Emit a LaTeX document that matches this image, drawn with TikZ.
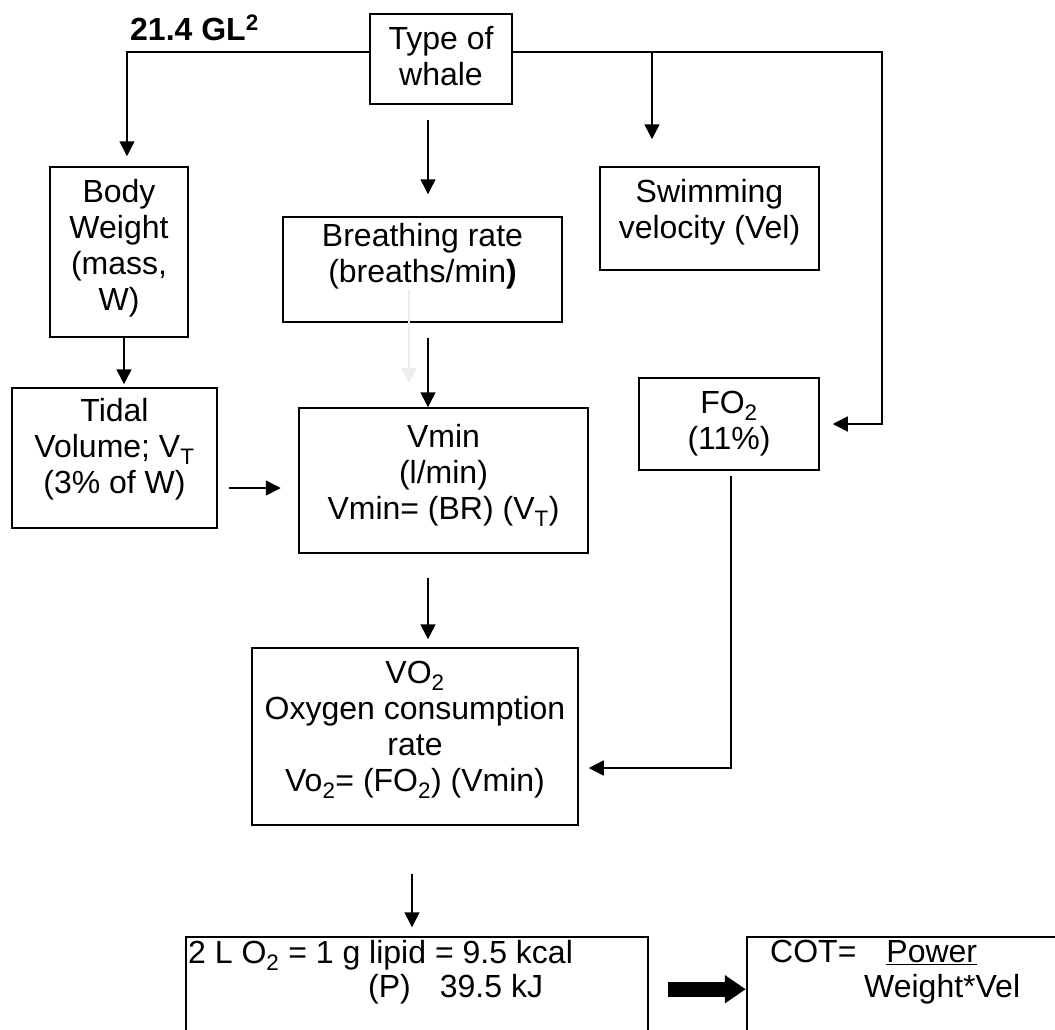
\documentclass[tikz,border=0pt]{standalone}
\usepackage{fontspec}
\setmainfont{Liberation Sans}
\usetikzlibrary{arrows.meta}

\tikzset{
  box/.style={draw, line width=1.5pt, inner sep=0pt},
  lbl/.style={align=center, inner sep=0pt},
  txt/.style={anchor=base west, inner sep=0pt},
  link/.style={line width=1.5pt, -{Triangle[length=15pt,width=15pt]}},
}

\begin{document}
\begin{tikzpicture}[x=1pt, y=-1pt, font=\fontsize{32}{36}\selectfont]
  \useasboundingbox (0,0) rectangle (1055,1029);
  \clip (0,0) rectangle (1055,1029);
  \fill[white] (0,0) rectangle (1055,1029);

  % boxes
  \node[box, minimum width=142pt, minimum height=90pt,
        label={[lbl,yshift=3pt]center:Type of\\whale}] (typ) at (441,59) {};
  \node[box, minimum width=138pt, minimum height=170pt,
        label={[lbl,yshift=4pt]center:Body\\Weight\\(mass,\\W)}] (body) at (119,252) {};
  \node[box, minimum width=279pt, minimum height=105pt,
        label={[lbl,yshift=13pt]center:Breathing rate\\(breaths/min\textbf{)}}] (brth) at (422.5,269.5) {};
  \node[box, minimum width=219pt, minimum height=103pt,
        label={[lbl,yshift=6pt]center:Swimming\\velocity (Vel)}] (swim) at (709.5,218.5) {};
  \node[box, minimum width=205pt, minimum height=140pt,
        label={[lbl,yshift=8.5pt]center:Tidal\\Volume; V\textsubscript{T}\\(3\% of W)}] (tidal) at (114.5,458) {};
  \node[box, minimum width=289pt, minimum height=145pt,
        label={[lbl,yshift=5pt]center:Vmin\\(l/min)\\Vmin= (BR) (V\textsubscript{T})}] (vmin) at (443.5,480.5) {};
  \node[box, minimum width=180pt, minimum height=92pt,
        label={[lbl]center:FO\textsubscript{2}\\(11\%)}] (fo2) at (729,424) {};
  \node[box, minimum width=326pt, minimum height=177pt,
        label={[lbl,yshift=6.5pt]center:VO\textsubscript{2}\\Oxygen consumption\\rate\\Vo\textsubscript{2}= (FO\textsubscript{2}) (Vmin)}] (vo2) at (415,736.5) {};
  \node[box, minimum width=462pt, minimum height=123pt] (lipid) at (417,998.5) {};
  \node[box, minimum width=328pt, minimum height=123pt] (cot) at (911,998.5) {};

  % texts
  \node[txt, font=\fontsize{32}{36}\selectfont\bfseries] (gl) at (130,40) {21.4 GL\textsuperscript{2}};
  \node[txt] (lip1) at (188,963) {2 L O\textsubscript{2} = 1 g lipid = 9.5 kcal};
  \node[txt] (lip2) at (368,997) {(P)\hspace{29pt}39.5 kJ};
  \node[txt] (cot1) at (770,962) {COT=\hspace{30pt}\underline{Power}};
  \node[txt] (cot2) at (864,997) {Weight*Vel};

  % connectors
  \coordinate (tl) at (127,52);
  \coordinate (tr) at (882,52);
  \coordinate (sw) at (652,52);
  \coordinate (m1) at (428,120);
  \coordinate (fb) at (409,290);
  \draw[link] (typ.west |- tl) -- (tl) -- ([xshift=8pt,yshift=10pt]body.north);
  \draw[link] (typ.east |- tr) -- (tr) |- ([xshift=13pt]fo2.east);
  \draw[link] (sw) -- ([xshift=-57.5pt,yshift=27pt]swim.north);
  \draw[link] (m1) -- ([xshift=5.5pt,yshift=22pt]brth.north);
  \draw[link, black!7] (fb) -- (409,383);
  \draw[link] ([xshift=5.5pt,yshift=-15pt]brth.south) -- ([xshift=-15.5pt]vmin.north);
  \draw[link] ([xshift=5pt]body.south) -- ([xshift=9.5pt,yshift=3pt]tidal.north);
  \draw[link] ([xshift=11pt,yshift=-30pt]tidal.east) -- ++(52,0);
  \draw[link] ([xshift=-15.5pt,yshift=-24pt]vmin.south) -- ([xshift=13pt,yshift=8pt]vo2.north);
  \draw[link] ([xshift=2pt,yshift=-5pt]fo2.south) |- ([xshift=10pt,yshift=-31.5pt]vo2.east);
  \draw[link] ([xshift=-3pt,yshift=-48pt]vo2.south) -- ([xshift=-5pt,yshift=9pt]lipid.north);
  \draw[line width=15pt, -{Triangle[length=21pt,width=27pt]}]
    ([xshift=19pt]lipid.east |- lip2) ++(0,0.5) -- ++(78,0);
\end{tikzpicture}
\end{document}
